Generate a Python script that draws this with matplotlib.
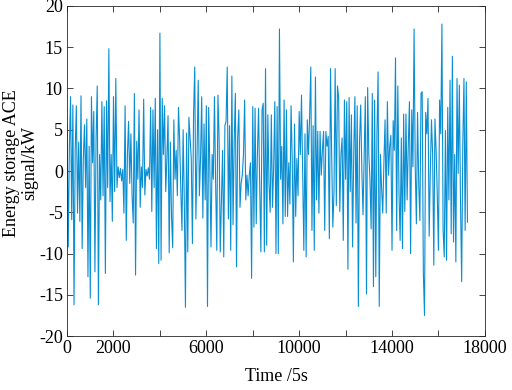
import numpy as np
import matplotlib
matplotlib.use('Agg')
import matplotlib.pyplot as plt

# sample step of the trace (units of 5 s)
step = 50

# energy storage ACE signal, kW (one value per step)
ace_signal = [
    5.6, -9.2, 3.0, 9.0, -5.9, 8.0, -16.2, 2.5, 7.9, -5.1,
    3.5, -6.1, 9.1, -9.4, 1.5, 5.6, -2.0, 6.3, -12.8, 3.0,
    -15.4, 9.0, 1.0, 7.2, -12.2, 4.0, 10.3, -16.2, 2.0, -3.5,
    8.4, -3.0, 7.8, -12.4, 8.5, -2.0, 14.8, -3.7, 2.0, -6.1,
    9.0, -2.5, 11.2, -2.0, 0.5, -0.8, 0.3, -1.2, 0.2, -5.1,
    7.9, -8.4, 2.0, 6.0, -1.5, 4.5, -3.0, -6.3, 9.4, -12.6,
    3.6, -1.0, 7.4, -4.4, 0.5, -2.0, 8.7, -2.9, 0.2, -0.6,
    0.4, -1.0, 7.7, -4.9, 7.4, -2.0, 8.8, -9.4, 5.0, -11.2,
    16.7, -10.8, 8.8, 2.0, 7.9, -2.5, 1.5, 6.7, -9.9, 3.5,
    -5.5, -9.3, 6.2, -1.0, 2.5, -3.0, 7.7, 3.8, -2.3, -7.2,
    5.0, -3.5, -16.5, 4.6, -9.8, 6.5, 4.0, 1.5, -8.8, 7.0,
    12.6, -5.8, 2.0, 11.0, -3.0, 1.5, 9.0, -5.7, 5.7, -3.5,
    7.9, -16.4, 7.7, 0.5, -9.2, 2.0, -1.0, 9.0, -1.5, -9.6,
    9.2, 4.0, -9.8, -3.5, 2.5, -10.4, 5.5, 6.0, 12.6, -5.8,
    5.5, -9.6, 11.5, -6.5, 3.5, 9.4, -11.6, 4.0, 7.4, -4.4,
    -1.5, -0.5, 2.0, 8.6, -3.5, -0.5, -3.0, -0.5, 1.0, -13.0,
    7.8, -6.8, 7.6, -6.4, 2.0, 7.6, -2.0, -9.8, 7.4, 8.2,
    -9.8, 12.4, -9.0, 6.8, -1.5, -5.0, 6.8, -4.4, 0.5, 8.4,
    -10.0, 7.8, -10.0, 17.2, -1.0, 3.0, -6.4, 8.6, -5.5, 7.4,
    -5.5, 1.0, -4.0, 7.9, 1.5, -11.0, 5.7, -5.5, 1.5, -3.0,
    7.2, 2.0, 9.2, 0.0, -9.6, 4.5, -10.4, 6.2, 2.0, 6.6,
    12.6, -7.2, 5.5, -9.6, 11.4, -3.5, 4.8, -5.1, 4.8, -0.5,
    2.5, 4.8, -7.2, 4.8, 3.0, 4.2, -8.2, 12.4, 2.0, -6.8,
    -2.5, 12.4, -4.2, 10.3, 8.9, -4.9, 2.0, 4.0, -8.4, 8.6,
    -1.0, 8.4, -11.9, 8.9, -2.5, 6.8, -9.2, 2.0, 9.0, -6.3,
    7.9, -16.4, 3.5, 8.0, 0.0, -5.3, 2.0, 9.0, -14.9, 10.1,
    2.0, -1.0, -7.0, 9.4, -14.0, 8.6, -12.8, 4.5, 12.0, -16.4,
    2.0, -2.0, -5.1, 1.0, 6.2, -5.1, 8.4, -0.5, 3.0, 4.3,
    -9.6, 6.1, 2.5, 13.7, -7.2, 10.3, -2.5, -8.4, 4.0, -9.4,
    6.9, -4.9, 6.9, -3.5, 3.0, 8.4, -10.0, 7.4, 0.5, 17.2,
    0.5, -6.4, 7.1, -1.5, -6.0, 9.4, 9.6, -12.4, -17.5, 7.1,
    4.5, 8.8, -7.9, 0.0, 6.2, 2.0, -11.4, 6.3, 2.5, -3.0,
    -9.6, 8.6, 4.5, 17.8, -7.2, -10.4, 4.9, -10.8, 7.7, -3.5,
    11.0, -7.6, 13.9, -8.6, 2.0, -11.0, 11.2, -0.3, 10.4, -3.5,
    -13.4, 3.3, 11.2, -7.2, 10.8, -6.2,
]
time_idx = np.arange(len(ace_signal)) * step

x_ticks = [0, 2000, 4000, 6000, 8000, 10000, 12000, 14000, 16000, 18000]
x_labels = ['0', '2000', '', '6000', '', '10000', '', '14000', '', '18000']
y_ticks = [-20, -15, -10, -5, 0, 5, 10, 15, 20]

plt.rcParams['font.family'] = ['Liberation Serif', 'DejaVu Serif']
plt.rcParams['font.size'] = 13
plt.rcParams['axes.unicode_minus'] = False

fig = plt.figure(figsize=(5.12, 3.9), dpi=100)
ax = fig.add_axes([0.131, 0.138, 0.816, 0.847])
ax.plot(time_idx, ace_signal, color='#0a8ed2', linewidth=0.8)

ax.set_xlim(0, 18000)
ax.set_ylim(-20, 20)
ax.set_xticks(x_ticks)
ax.set_xticklabels(x_labels)
ax.set_yticks(y_ticks)
ax.tick_params(direction='in', top=True, right=True, length=4, width=0.6,
               colors='#262626', labelcolor='black', pad=3)
for s in ax.spines.values():
    s.set_linewidth(0.6)
    s.set_color('#262626')

ax.set_xlabel('Time /5s', labelpad=8)
ax.set_ylabel('Energy storage ACE\nsignal/kW', linespacing=1.15)
ax.yaxis.set_label_coords(-0.068, 0.525)

fig.savefig('out.png', dpi=100)
